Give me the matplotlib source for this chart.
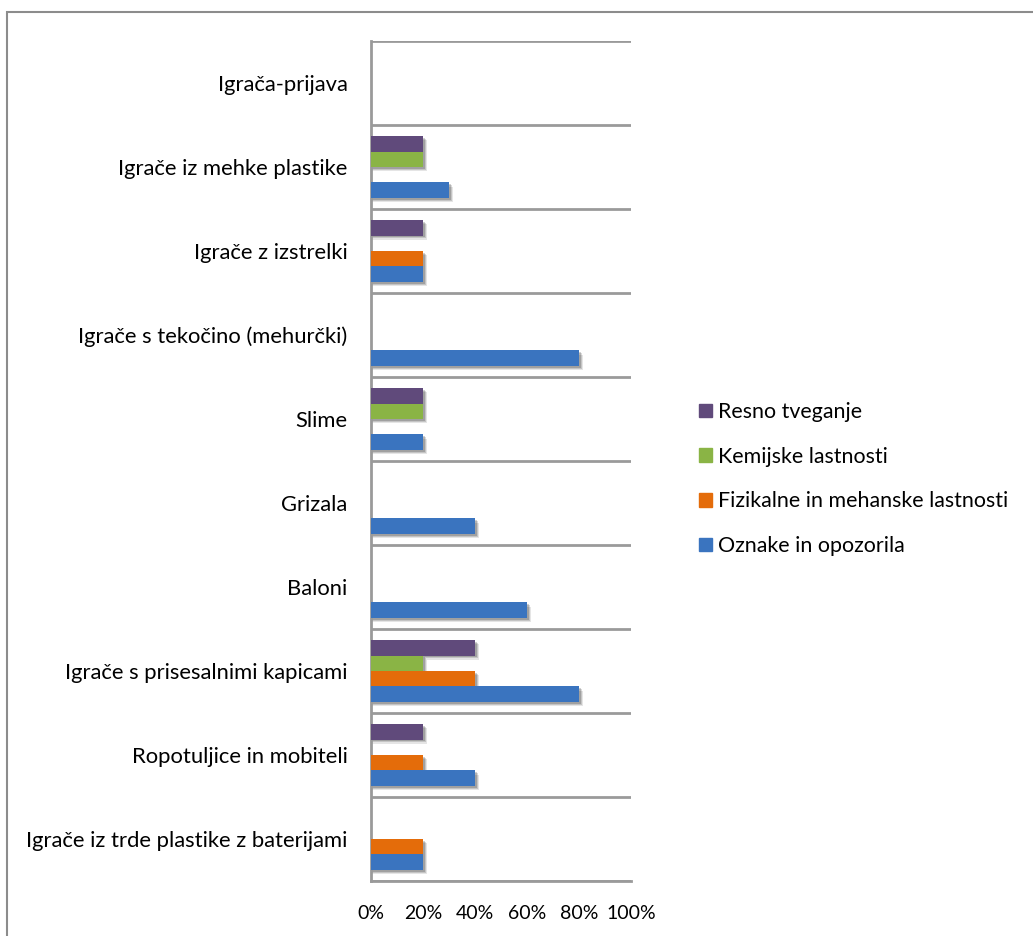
import numpy as np
import matplotlib.pyplot as plt
from matplotlib.patches import Rectangle, Patch
from matplotlib.ticker import PercentFormatter

# categories, bottom to top
categories = [
    "Igrače iz trde plastike z baterijami",
    "Ropotuljice in mobiteli",
    "Igrače s prisesalnimi kapicami",
    "Baloni",
    "Grizala",
    "Slime",
    "Igrače s tekočino (mehurčki)",
    "Igrače z izstrelki",
    "Igrače iz mehke plastike",
    "Igrača-prijava",
]

series_names = [
    "Oznake in opozorila",
    "Fizikalne in mehanske lastnosti",
    "Kemijske lastnosti",
    "Resno tveganje",
]

oznake = [0.2, 0.4, 0.8, 0.6, 0.4, 0.2, 0.8, 0.2, 0.3, 0.0]
fizikalne = [0.2, 0.2, 0.4, 0.0, 0.0, 0.0, 0.0, 0.2, 0.0, 0.0]
kemijske = [0.0, 0.0, 0.2, 0.0, 0.0, 0.2, 0.0, 0.0, 0.2, 0.0]
resno = [0.0, 0.2, 0.4, 0.0, 0.0, 0.2, 0.0, 0.2, 0.2, 0.0]

colors = ["#3A74BF", "#E46C0A", "#8AB445", "#604A7B"]

plt.rcParams["font.family"] = ["Lato", "DejaVu Sans"]

fig = plt.figure(figsize=(10.33, 9.36), dpi=100)
ax = fig.add_axes([371 / 1033, 1 - 881 / 936, 260 / 1033, 840 / 936])

y = np.arange(len(categories))
h = 0.184
all_series = [oznake, fizikalne, kemijske, resno]

# soft drop shadows first, so they sit behind every bar
for k, vals in enumerate(all_series):
    v = np.array(vals)
    for dx, dy, a in [(0.016, -0.05, 0.10), (0.011, -0.035, 0.14), (0.006, -0.02, 0.18)]:
        ax.barh(y + (k - 1.5) * h + dy, np.where(v > 0, v + dx, 0), height=h,
                color="black", alpha=a, linewidth=0, zorder=2)

for k, (vals, col) in enumerate(zip(all_series, colors)):
    ax.barh(y + (k - 1.5) * h, vals, height=h, color=col, linewidth=0, zorder=3)

ax.set_xlim(0, 1)
ax.set_ylim(-0.5, len(categories) - 0.5)
ax.set_xticks(np.linspace(0, 1, 6))
ax.xaxis.set_major_formatter(PercentFormatter(1.0, decimals=0))
ax.set_yticks(y)
ax.set_yticklabels(categories)
ax.set_yticks(np.arange(-0.5, len(categories), 1.0), minor=True)
ax.tick_params(axis="both", which="both", length=0, colors="black")
ax.tick_params(axis="y", pad=17, labelsize=15.8)
ax.tick_params(axis="x", pad=17, labelsize=14)
ax.grid(axis="y", which="minor", color="#9a9a9a", linewidth=2, zorder=1)
for s in ["top", "right"]:
    ax.spines[s].set_visible(False)
ax.spines["left"].set_color("#9a9a9a")
ax.spines["left"].set_linewidth(2)
ax.spines["bottom"].set_color("#9a9a9a")
ax.spines["bottom"].set_linewidth(2)

handles = [Patch(color=c, label=n) for c, n in zip(colors, series_names)][::-1]
fig.legend(handles=handles, loc="center left", bbox_to_anchor=(680 / 1033, 1 - 479 / 936),
           frameon=False, fontsize=15.4, handlelength=0.6, handleheight=0.6,
           handletextpad=0.3, labelspacing=1.15)

# outer chart frame
fig.patches.append(Rectangle((7 / 1033, -0.1), 1.2, 1 - 12 / 936 + 0.1, transform=fig.transFigure,
                             fill=False, edgecolor="#8c8c8c", linewidth=1.5))

fig.savefig("out.png", dpi=100)
